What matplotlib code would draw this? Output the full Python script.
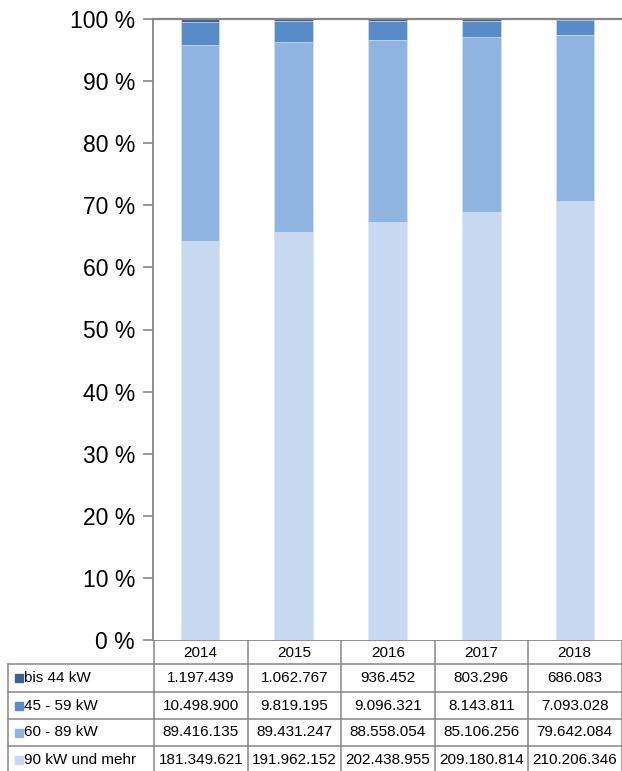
import matplotlib

matplotlib.use("Agg")
import matplotlib.pyplot as plt  # noqa: E402
import numpy as np  # noqa: E402

plt.rcParams["font.family"] = ["Liberation Sans", "DejaVu Sans"]

years = ["2014", "2015", "2016", "2017", "2018"]
series_names = ["bis 44 kW", "45 - 59 kW", "60 - 89 kW", "90 kW und mehr"]
bis_44 = [1197439, 1062767, 936452, 803296, 686083]
kw_45_59 = [10498900, 9819195, 9096321, 8143811, 7093028]
kw_60_89 = [89416135, 89431247, 88558054, 85106256, 79642084]
kw_90_plus = [181349621, 191962152, 202438955, 209180814, 210206346]
colors = ["#3D5F91", "#588CC9", "#8EB4DF", "#C6D9F0"]

W, H = 622, 771
fig = plt.figure(figsize=(W / 100, H / 100), dpi=100)

# plot area in pixel units
left, right, top, bottom = 153, 622, 19, 640
ax = fig.add_axes([left / W, 1 - bottom / H, (right - left) / W, (bottom - top) / H])

data = np.array([bis_44, kw_45_59, kw_60_89, kw_90_plus], dtype=float)
share = data / data.sum(axis=0) * 100
x = np.arange(len(years))
base = np.zeros(len(years))
for k in [3, 2, 1, 0]:
    ax.bar(x, share[k], bottom=base, width=0.41, color=colors[k],
           edgecolor="#D8E4F3", linewidth=0.4)
    base += share[k]

ax.set_xlim(-0.5, len(years) - 0.5)
ax.set_ylim(0, 100)
ax.set_yticks(np.arange(0, 101, 10))
ax.set_yticklabels([f"{v} %" for v in range(0, 101, 10)], fontsize=16.5)
ax.set_xticks([])
ax.tick_params(axis="y", length=7, width=1.2, color="#868686", pad=6)
for s in ["right", "bottom", "top"]:
    ax.spines[s].set_visible(False)
ax.spines["left"].set_color("#868686")
ax.spines["left"].set_linewidth(1.3)
ax.axhline(100, color="#868686", linewidth=1.6, clip_on=False)

# data table below the plot
tab = fig.add_axes([0, 0, 1, (H - bottom) / H])
tab.set_xlim(0, W)
tab.set_ylim(H, bottom)
tab.axis("off")
line_kw = dict(color="#868686", linewidth=1.1)
col_edges = np.linspace(left + 1, right - 0.5, len(years) + 1)
row_edges = [bottom, 664, 692, 719, 746, 773]
label_left = 7.5
fs = 11

# header row
tab.plot([left, right], [bottom, bottom], color="#868686", linewidth=1.3)
for xe in col_edges:
    tab.plot([xe, xe], [row_edges[0], row_edges[-1]], **line_kw)
for j, yr in enumerate(years):
    tab.text((col_edges[j] + col_edges[j + 1]) / 2, (row_edges[0] + row_edges[1]) / 2 + 1,
             yr, ha="center", va="center", fontsize=fs)

tab.plot([label_left, label_left], [row_edges[1], row_edges[-1]], **line_kw)
for ye in row_edges[1:-1]:
    tab.plot([label_left, right], [ye, ye], **line_kw)

for i, name in enumerate(series_names):
    yc = (row_edges[i + 1] + row_edges[i + 2]) / 2
    tab.add_patch(plt.Rectangle((label_left + 7, yc - 4), 8, 8, color=colors[i]))
    tab.text(label_left + 16, yc, name, ha="left", va="center", fontsize=fs)
    for j in range(len(years)):
        val = f"{int(data[i, j]):,}".replace(",", ".")
        tab.text((col_edges[j] + col_edges[j + 1]) / 2, yc, val,
                 ha="center", va="center", fontsize=fs)

fig.savefig("out.png", dpi=100)
